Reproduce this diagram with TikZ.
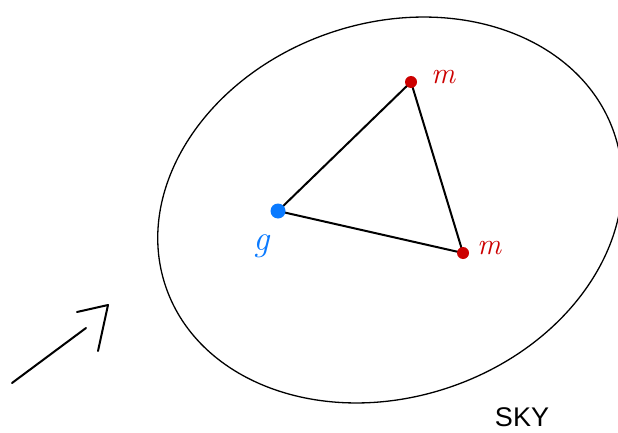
\documentclass[tikz,border=0pt]{standalone}
\usepackage{fontspec}
\newfontfamily\skyfont{Liberation Sans}
\usetikzlibrary{shapes.geometric}
\definecolor{massred}{RGB}{204,0,0}
\definecolor{gblue}{RGB}{10,122,255}
\begin{document}
\begin{tikzpicture}[x=1pt,y=1pt,
  edge/.style={line width=2pt, line cap=round},
  reddot/.style={circle, fill=massred, inner sep=0pt, minimum size=12pt},
  bluedot/.style={circle, fill=gblue, inner sep=0pt, minimum size=15pt},
  masslabel/.style={text=massred, font=\fontsize{30}{32}\selectfont\itshape, inner sep=0pt},
  glabel/.style={text=gblue, font=\fontsize{36}{38}\selectfont\itshape, inner sep=0pt}]
\useasboundingbox (0,0) rectangle (618,432);
\node[draw, ellipse, rotate=19, line width=1.3pt, minimum width=474pt, minimum height=374pt, inner sep=0pt] (sky) at (390,222) {};
\coordinate (vg) at (278,221);
\coordinate (vm1) at (411,350);
\coordinate (vm2) at (463,179);
\draw[edge] (vg) -- (vm1) -- (vm2) -- cycle;
\node[reddot] (m1) at (vm1) {};
\node[reddot] (m2) at (vm2) {};
\node[bluedot] (g) at (vg) {};
\node[masslabel] (lm1) at (443,355) {m};
\node[masslabel] (lm2) at (489,184) {m};
\node[glabel] (lg) at (262,186) {g};
\node[font=\skyfont\fontsize{27}{29}\selectfont, inner sep=0pt] (skylabel) at (522,15) {SKY};
\coordinate (a0) at (12,49);
\coordinate (a1) at (86,104);
\coordinate (ah) at (108,127);
\coordinate (al) at (77,120);
\coordinate (ab) at (98,81);
\draw[edge] (a0) -- (a1);
\draw[edge, line join=round] (al) -- (ah) -- (ab);
\end{tikzpicture}
\end{document}
